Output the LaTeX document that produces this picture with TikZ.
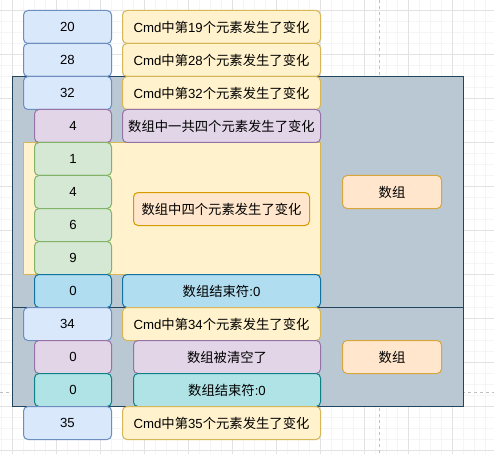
\documentclass[tikz,border=0pt]{standalone}
\usepackage{fontspec}
\setmainfont{Liberation Sans}
\newfontfamily\cjk[Scale=1.01]{Noto Sans CJK SC}
\newcommand\zh[1]{{\cjk #1}}
% \bx{style}{name}{x1}{y1}{x2}{y2}{text}: a box given by its corners
\newcommand\bx[7]{\node[#1, minimum width={(#5-#3)*1pt}, minimum height={(#6-#4)*1pt}] (#2) at ({(#3+#5)/2},{(#4+#6)/2}) {#7};}

\definecolor{bluF}{HTML}{DAE8FC}\definecolor{bluD}{HTML}{6C8EBF}
\definecolor{ylwF}{HTML}{FFF2CC}\definecolor{ylwD}{HTML}{D6B656}
\definecolor{purF}{HTML}{E1D5E7}\definecolor{purD}{HTML}{9673A6}
\definecolor{grnF}{HTML}{D5E8D4}\definecolor{grnD}{HTML}{82B366}
\definecolor{orgF}{HTML}{FFE6CC}\definecolor{orgD}{HTML}{D79B00}
\definecolor{arrD}{HTML}{D8A63C}
\definecolor{skyF}{HTML}{B1DDF0}\definecolor{skyD}{HTML}{10739E}
\definecolor{tealF}{HTML}{B0E3E6}\definecolor{tealD}{HTML}{0E8088}
\definecolor{conF}{HTML}{BAC8D3}\definecolor{conD}{HTML}{23445D}
\definecolor{gridMinor}{HTML}{F5F5F5}\definecolor{gridMajor}{HTML}{E2E2E2}
\definecolor{pageBreak}{HTML}{C0C0C0}

\tikzset{
  box/.style={rounded corners=4.5pt, line width=1pt, inner sep=0pt, outer sep=0pt, text=black, align=center},
  blu/.style={box, fill=bluF, draw=bluD},
  ylw/.style={box, fill=ylwF, draw=ylwD},
  pur/.style={box, fill=purF, draw=purD},
  grn/.style={box, fill=grnF, draw=grnD},
  org/.style={box, fill=orgF, draw=orgD},
  arr/.style={box, fill=orgF, draw=arrD},
  sky/.style={box, fill=skyF, draw=skyD},
  teal/.style={box, fill=tealF, draw=tealD},
  cont/.style={inner sep=0pt, outer sep=0pt, fill=conF, draw=conD, line width=1pt},
  band/.style={inner sep=0pt, outer sep=0pt, fill=ylwF, draw=ylwD, line width=1pt},
}

\begin{document}
\begin{tikzpicture}[x=1pt, y=-1pt, font=\fontsize{13.2}{15}\selectfont]
\useasboundingbox (0,0) rectangle (494,454);
\fill[white] (0,0) rectangle (494,454);

% background grid
\foreach \i in {0,...,45} {
  \draw[gridMinor, line width=1pt] ({1.5+11*\i},0) -- ({1.5+11*\i},454);
  \draw[gridMinor, line width=1pt] (0,{-0.5+11*\i}) -- (494,{-0.5+11*\i});
}
\foreach \i in {0,...,11} {
  \draw[gridMajor, line width=1pt] ({12.5+44*\i},0) -- ({12.5+44*\i},454);
  \draw[gridMajor, line width=1pt] (0,{10.5+44*\i}) -- (494,{10.5+44*\i});
}
% page break guides
\draw[pageBreak, line width=1pt, dash pattern=on 3pt off 3pt] (379.5,0) -- (379.5,454);
\draw[pageBreak, line width=1pt, dash pattern=on 3pt off 3pt] (0,392) -- (494,392);

% containers
\bx{cont}{grpA}{12.5}{76.5}{463.5}{307.5}{}
\bx{cont}{grpB}{12.5}{307.5}{463.5}{406.5}{}
\bx{band}{elems}{23.5}{142.5}{320.5}{274.5}{}

% values
\bx{blu}{v20}{23.5}{10.5}{111.5}{43.5}{20}
\bx{blu}{v28}{23.5}{43.5}{111.5}{76.5}{28}
\bx{blu}{v32}{23.5}{76.5}{111.5}{109.5}{32}
\bx{pur}{vcnt}{34.5}{109.5}{111.5}{142.5}{4}
\bx{grn}{e1}{34.5}{142.5}{111.5}{175.5}{1}
\bx{grn}{e2}{34.5}{175.5}{111.5}{208.5}{4}
\bx{grn}{e3}{34.5}{208.5}{111.5}{241.5}{6}
\bx{grn}{e4}{34.5}{241.5}{111.5}{274.5}{9}
\bx{sky}{vend}{34.5}{274.5}{111.5}{307.5}{0}
\bx{blu}{v34}{23.5}{307.5}{111.5}{340.5}{34}
\bx{pur}{vclr}{34.5}{340.5}{111.5}{373.5}{0}
\bx{teal}{vend2}{34.5}{373.5}{111.5}{406.5}{0}
\bx{blu}{v35}{23.5}{406.5}{111.5}{439.5}{35}

% descriptions
\bx{ylw}{d20}{122.5}{10.5}{320.5}{43.5}{Cmd\zh{中第}19\zh{个元素发生了变化}}
\bx{ylw}{d28}{122.5}{43.5}{320.5}{76.5}{Cmd\zh{中第}28\zh{个元素发生了变化}}
\bx{ylw}{d32}{122.5}{76.5}{320.5}{109.5}{Cmd\zh{中第}32\zh{个元素发生了变化}}
\bx{pur}{dcnt}{122.5}{109.5}{320.5}{142.5}{\zh{数组中一共四个元素发生了变化}}
\bx{org}{delem}{133.5}{192.5}{309.5}{225.5}{\zh{数组中四个元素发生了变化}}
\bx{sky}{dend}{122.5}{274.5}{320.5}{307.5}{\zh{数组结束符}:0}
\bx{ylw}{d34}{122.5}{307.5}{320.5}{340.5}{Cmd\zh{中第}34\zh{个元素发生了变化}}
\bx{pur}{dclr}{133.5}{340.5}{320.5}{373.5}{\zh{数组被清空了}}
\bx{teal}{dend2}{133.5}{373.5}{320.5}{406.5}{\zh{数组结束符}:0}
\bx{ylw}{d35}{122.5}{406.5}{320.5}{439.5}{Cmd\zh{中第}35\zh{个元素发生了变化}}

% group labels
\bx{arr}{lblA}{342.5}{175.5}{441.5}{208.5}{\zh{数组}}
\bx{arr}{lblB}{342.5}{340.5}{441.5}{373.5}{\zh{数组}}
\end{tikzpicture}
\end{document}
